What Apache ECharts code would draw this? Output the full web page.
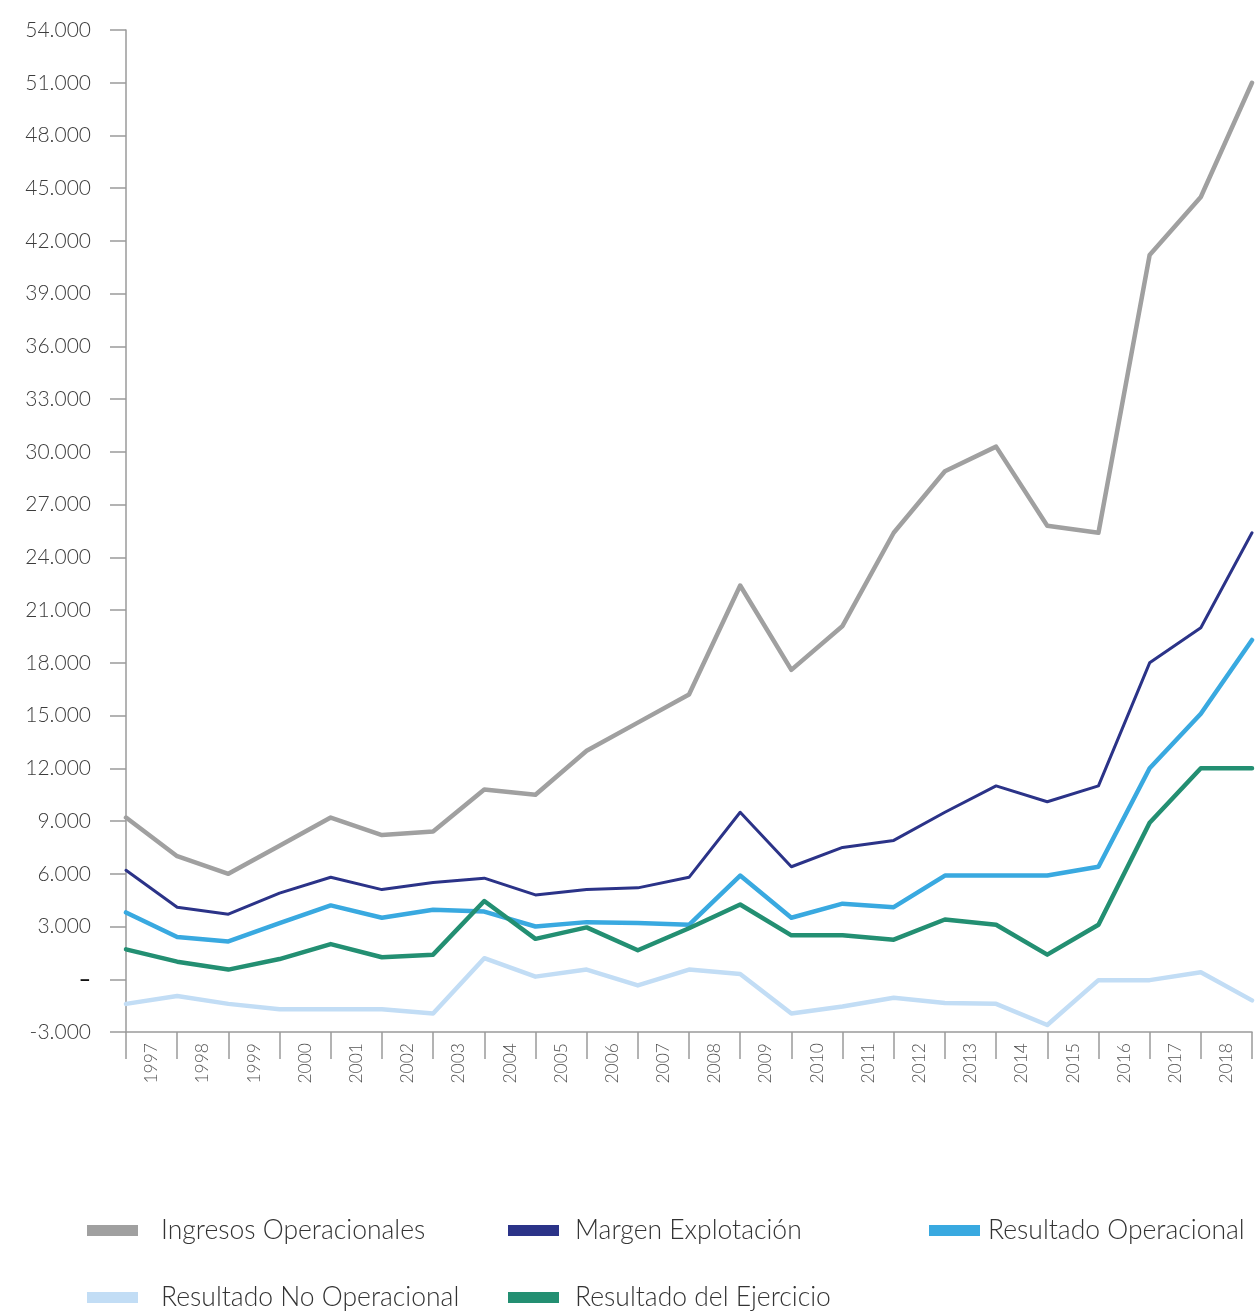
<!DOCTYPE html>
<html>
<head>
<meta charset="utf-8">
<script src="https://cdn.jsdelivr.net/npm/echarts@6/dist/echarts.min.js"></script>
<style>
  html, body { margin: 0; padding: 0; background: #ffffff; }
  #chart { width: 1257px; height: 1312px; }
</style>
</head>
<body>
<div id="chart"></div>
<script>
// Year labels shown between the x-axis ticks
const years = ['1997','1998','1999','2000','2001','2002','2003','2004','2005','2006','2007',
  '2008','2009','2010','2011','2012','2013','2014','2015','2016','2017','2018'];

// Values plotted at each x-axis tick (23 points)
const ingresosOperacionales = [9200, 7000, 6000, 7600, 9200, 8200, 8400, 10800, 10500, 13000, 14600,
  16200, 22400, 17600, 20100, 25400, 28900, 30300, 25800, 25400, 41200, 44500, 51000];
const margenExplotacion = [6200, 4100, 3700, 4900, 5800, 5100, 5500, 5750, 4800, 5100, 5200,
  5800, 9500, 6400, 7500, 7900, 9500, 11000, 10100, 11000, 18000, 20000, 25400];
const resultadoOperacional = [3800, 2400, 2150, 3200, 4200, 3500, 3950, 3850, 3000, 3250, 3200,
  3100, 5900, 3500, 4300, 4100, 5900, 5900, 5900, 6400, 12000, 15100, 19300];
const resultadoNoOperacional = [-1400, -950, -1400, -1700, -1700, -1700, -1950, 1200, 150, 550, -350,
  550, 300, -1950, -1550, -1050, -1350, -1400, -2600, -50, -50, 400, -1200];
const resultadoEjercicio = [1700, 1000, 550, 1150, 2000, 1250, 1400, 4450, 2300, 2950, 1650,
  2900, 4250, 2500, 2500, 2250, 3400, 3100, 1400, 3100, 8900, 12000, 12000];

const seriesNames = ['Ingresos Operacionales', 'Margen Explotación', 'Resultado Operacional',
  'Resultado No Operacional', 'Resultado del Ejercicio'];

const yMin = -3000, yMax = 54000, yStep = 3000;

const colors = ['#a0a0a0', '#2b3388', '#39a9e0', '#c2ddf5', '#238f72'];
const widths = [4.5, 3, 4.5, 4.5, 4.5];
const seriesData = [ingresosOperacionales, margenExplotacion, resultadoOperacional,
  resultadoNoOperacional, resultadoEjercicio];

const FONT = 'Lato, "Open Sans", sans-serif';

function fmt(v) {
  if (v === 0) return '{z|–}';
  const s = Math.abs(v).toString().replace(/\B(?=(\d{3})+(?!\d))/g, '.');
  return (v < 0 ? '-' : '') + s;
}

const pointKeys = ingresosOperacionales.map((_, i) => String(i));

const legendPos = [
  { left: 87, top: 1217, pad: 18 },
  { left: 508, top: 1217, pad: 11 },
  { left: 929, top: 1217, pad: 3 },
  { left: 87, top: 1284, pad: 18 },
  { left: 508, top: 1284, pad: 11 }
];

const chart = echarts.init(document.getElementById('chart'), null, { renderer: 'canvas' });
chart.setOption({
  backgroundColor: '#ffffff',
  animation: false,
  grid: { left: 126, right: 5, top: 30, bottom: 280, containLabel: false },
  legend: seriesNames.map((n, i) => ({
    data: [{ name: n, icon: 'rect' }],
    left: legendPos[i].left,
    top: legendPos[i].top,
    padding: 0,
    itemWidth: 51,
    itemHeight: 11,
    selectedMode: false,
    textStyle: {
      fontFamily: FONT, fontWeight: 300, fontSize: 26.5, color: '#333333',
      padding: [17, 0, 0, legendPos[i].pad]
    }
  })),
  xAxis: [
    {
      type: 'category',
      data: years,
      boundaryGap: true,
      position: 'bottom',
      axisLine: { onZero: false, lineStyle: { color: '#9a9a9a', width: 1.5 } },
      axisTick: { show: true, length: 27, alignWithLabel: false, lineStyle: { color: '#9a9a9a', width: 1.5 } },
      axisLabel: {
        rotate: 90, margin: 11, interval: 0,
        fontFamily: FONT, fontWeight: 300, fontSize: 17.5, color: '#555555'
      },
      splitLine: { show: false }
    },
    {
      type: 'category',
      data: pointKeys,
      boundaryGap: false,
      show: false,
      position: 'bottom',
      axisLine: { onZero: false }
    }
  ],
  yAxis: {
    type: 'value',
    min: yMin, max: yMax, interval: yStep,
    axisLine: { show: true, lineStyle: { color: '#9a9a9a', width: 1.5 } },
    axisTick: { show: true, length: 16, lineStyle: { color: '#9a9a9a', width: 1.5 } },
    splitLine: { show: false },
    axisLabel: {
      margin: 35,
      fontFamily: FONT, fontWeight: 300, fontSize: 21, color: '#3c3c3c',
      formatter: fmt,
      rich: { z: { fontSize: 21, fontWeight: 'bold', color: '#111111', fontFamily: FONT } }
    }
  },
  series: seriesNames.map((n, i) => ({
    name: n,
    type: 'line',
    xAxisIndex: 1,
    data: seriesData[i],
    symbol: 'none',
    smooth: false,
    color: colors[i],
    itemStyle: { color: colors[i] },
    lineStyle: { color: colors[i], width: widths[i], join: 'round', cap: 'round' },
    emphasis: { disabled: true }
  }))
});
</script>
</body>
</html>
